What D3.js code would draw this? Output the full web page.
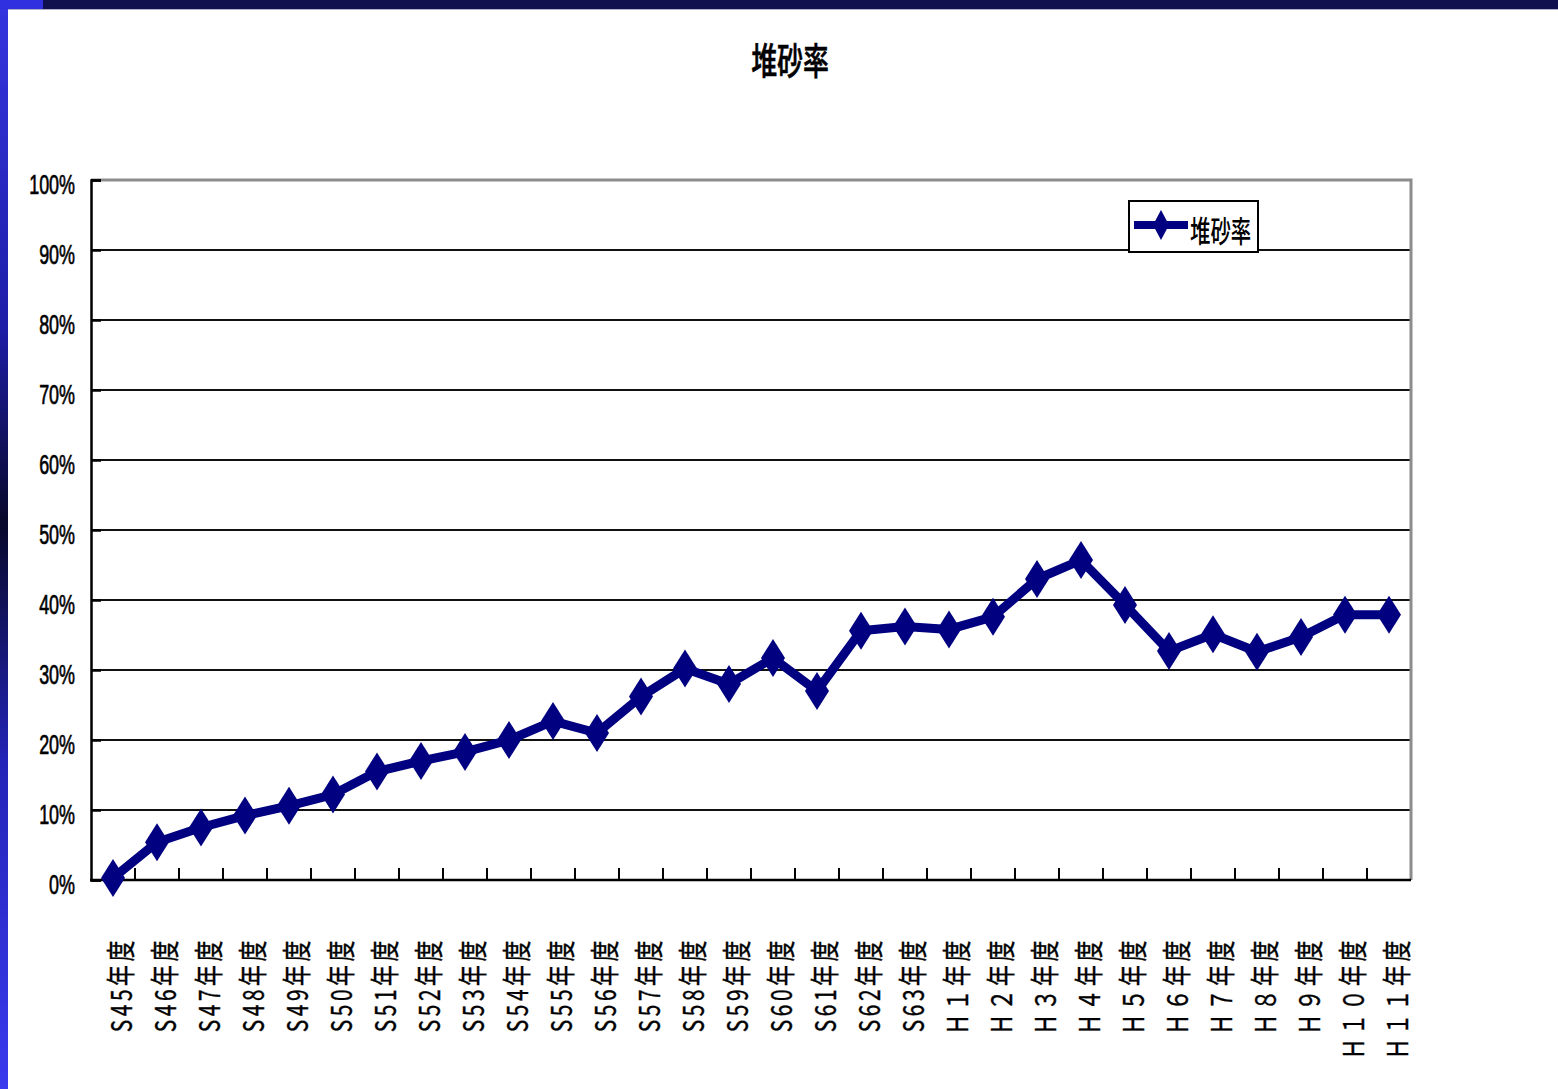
<!DOCTYPE html>
<html>
<head>
<meta charset="utf-8" />
<style>
body {
  margin: 0;
  background-color: white;
}
svg {
  display: block;
}
.ylab {
  font-family: "Liberation Sans", Arial, sans-serif;
  font-size: 28px;
  fill: black;
  stroke: black;
  stroke-width: 0.7px;
}
.xlab {
  font-family: "Noto Sans CJK JP", sans-serif;
  font-size: 29px;
  letter-spacing: 5px;
  fill: black;
  stroke: black;
  stroke-width: 0.4px;
}
.jp {
  font-family: "Noto Sans CJK JP", sans-serif;
  fill: black;
}
</style>
<script src="https://cdnjs.cloudflare.com/ajax/libs/d3/7.8.5/d3.min.js"></script>
</head>
<body>
<div id="chart"></div>
<script>
// fiscal years, Showa then Heisei
var categories = ["S45年度", "S46年度", "S47年度", "S48年度", "S49年度", "S50年度",
  "S51年度", "S52年度", "S53年度", "S54年度", "S55年度", "S56年度", "S57年度",
  "S58年度", "S59年度", "S60年度", "S61年度", "S62年度", "S63年度",
  "Ｈ１年度", "Ｈ２年度", "Ｈ３年度", "Ｈ４年度", "Ｈ５年度", "Ｈ６年度",
  "Ｈ７年度", "Ｈ８年度", "Ｈ９年度", "Ｈ１０年度", "Ｈ１１年度"];

// 堆砂率 (fraction of capacity)
var sedimentRate = [0.003, 0.054, 0.075, 0.092, 0.106, 0.122, 0.155, 0.170, 0.183,
  0.200, 0.227, 0.210, 0.262, 0.302, 0.280, 0.317, 0.270, 0.356, 0.362,
  0.358, 0.376, 0.430, 0.457, 0.393, 0.327, 0.351, 0.326, 0.347, 0.379, 0.379];

var yTicks = [0, 0.1, 0.2, 0.3, 0.4, 0.5, 0.6, 0.7, 0.8, 0.9, 1.0];
var yTickLabels = ["0%", "10%", "20%", "30%", "40%", "50%", "60%", "70%", "80%", "90%", "100%"];

var seriesName = "堆砂率";
var title = "堆砂率";

var W = 1558, H = 1089;
var plot = { left: 91, right: 1411, top: 180, bottom: 880 };
var navy = "#000080";

var svg = d3.select("#chart").append("svg")
  .attr("width", W)
  .attr("height", H);

// slide frame: blue strip on the left, dark bar on top
var grad = svg.append("defs").append("linearGradient")
  .attr("id", "strip")
  .attr("x1", 0).attr("y1", 0).attr("x2", 0).attr("y2", 1);
grad.append("stop").attr("offset", "0").attr("stop-color", "#3535e0");
grad.append("stop").attr("offset", "0.3").attr("stop-color", "#1e1ea8");
grad.append("stop").attr("offset", "0.48").attr("stop-color", "#08082a");
grad.append("stop").attr("offset", "0.7").attr("stop-color", "#2424b8");
grad.append("stop").attr("offset", "1").attr("stop-color", "#3a3aee");

svg.append("rect").attr("x", 0).attr("y", 0).attr("width", 8).attr("height", H)
  .attr("fill", "url(#strip)");
svg.append("rect").attr("x", 0).attr("y", 0).attr("width", W).attr("height", 9)
  .attr("fill", "#10104e");
svg.append("rect").attr("x", 0).attr("y", 0).attr("width", 43).attr("height", 9)
  .attr("fill", "#3030e0");
svg.append("line").attr("x1", 8).attr("x2", W).attr("y1", 9.5).attr("y2", 9.5)
  .attr("stroke", "#b0b0c8").attr("stroke-width", 1);

var x = d3.scaleBand()
  .domain(categories)
  .range([plot.left, plot.right])
  .padding(0);

var y = d3.scaleLinear()
  .domain([0, 1])
  .range([plot.bottom, plot.top]);

// gridlines
svg.append("g").selectAll("line")
  .data(yTicks.slice(1, -1))
  .enter().append("line")
  .attr("x1", plot.left).attr("x2", plot.right)
  .attr("y1", function(d) { return y(d); })
  .attr("y2", function(d) { return y(d); })
  .attr("stroke", "#111")
  .attr("stroke-width", 2);

// plot area border (top/right grey)
svg.append("path")
  .attr("d", "M" + plot.left + "," + y(1) + "H" + plot.right + "V" + plot.bottom)
  .attr("fill", "none")
  .attr("stroke", "#8c8c8c")
  .attr("stroke-width", 3);

// y axis with short inside ticks
var yAxis = d3.axisLeft(y).tickValues(yTicks).tickSize(-10).tickFormat("");
var yg = svg.append("g")
  .attr("transform", "translate(" + plot.left + ",0)")
  .call(yAxis);
yg.select(".domain").attr("stroke", "black").attr("stroke-width", 2.5);
yg.selectAll(".tick line").attr("stroke", "black").attr("stroke-width", 2.5);

yTicks.forEach(function(t, i) {
  svg.append("g")
    .attr("transform", "translate(75," + (y(t) + 14) + ")")
    .append("text")
    .attr("class", "ylab")
    .attr("text-anchor", "end")
    .attr("transform", "scale(0.64,1)")
    .text(yTickLabels[i]);
});

// x axis: baseline plus inside ticks at category boundaries
svg.append("line")
  .attr("x1", plot.left - 1).attr("x2", plot.right)
  .attr("y1", plot.bottom).attr("y2", plot.bottom)
  .attr("stroke", "black").attr("stroke-width", 2.5);

svg.append("g").selectAll("line")
  .data(categories.slice(1))
  .enter().append("line")
  .attr("x1", function(d) { return x(d); })
  .attr("x2", function(d) { return x(d); })
  .attr("y1", plot.bottom).attr("y2", plot.bottom - 12)
  .attr("stroke", "black").attr("stroke-width", 2);

// category labels, rotated, reading upward
svg.append("g").selectAll("g")
  .data(categories)
  .enter().append("g")
  .attr("transform", function(d) {
    return "translate(" + (x(d) + x.bandwidth() / 2 + 6) + ",937) rotate(-90)";
  })
  .append("text")
  .attr("class", "xlab")
  .attr("text-anchor", "end")
  .attr("dominant-baseline", "central")
  .attr("transform", "scale(0.72,1)")
  .text(function(d) { return d; });

// series line
var line = d3.line()
  .x(function(d, i) { return x(categories[i]) + x.bandwidth() / 2; })
  .y(function(d) { return y(d); });

svg.append("path")
  .datum(sedimentRate)
  .attr("d", line)
  .attr("fill", "none")
  .attr("stroke", navy)
  .attr("stroke-width", 9)
  .attr("stroke-linejoin", "round");

var diamond = "M0,-19L12,0L0,19L-12,0Z";

svg.append("g").selectAll("path")
  .data(sedimentRate)
  .enter().append("path")
  .attr("d", diamond)
  .attr("transform", function(d, i) {
    return "translate(" + (x(categories[i]) + x.bandwidth() / 2) + "," + y(d) + ")";
  })
  .attr("fill", navy);

// legend
var lg = svg.append("g").attr("transform", "translate(1129,201)");
lg.append("rect")
  .attr("width", 129).attr("height", 51)
  .attr("fill", "white")
  .attr("stroke", "black")
  .attr("stroke-width", 2);
lg.append("line")
  .attr("x1", 5).attr("x2", 59).attr("y1", 24).attr("y2", 24)
  .attr("stroke", navy).attr("stroke-width", 8);
lg.append("path")
  .attr("d", "M0,-15L8,0L0,15L-8,0Z")
  .attr("transform", "translate(32,24)")
  .attr("fill", navy);
lg.append("g")
  .attr("transform", "translate(61,41)")
  .append("text")
  .attr("class", "jp")
  .attr("font-size", "30px")
  .attr("font-weight", 500)
  .attr("transform", "scale(0.68,1)")
  .text(seriesName);

// title
svg.append("g")
  .attr("transform", "translate(790,75)")
  .append("text")
  .attr("class", "jp")
  .attr("text-anchor", "middle")
  .attr("font-size", "37px")
  .attr("font-weight", 500)
  .attr("stroke", "black")
  .attr("stroke-width", 0.6)
  .attr("transform", "scale(0.7,1)")
  .text(title);
</script>
</body>
</html>
